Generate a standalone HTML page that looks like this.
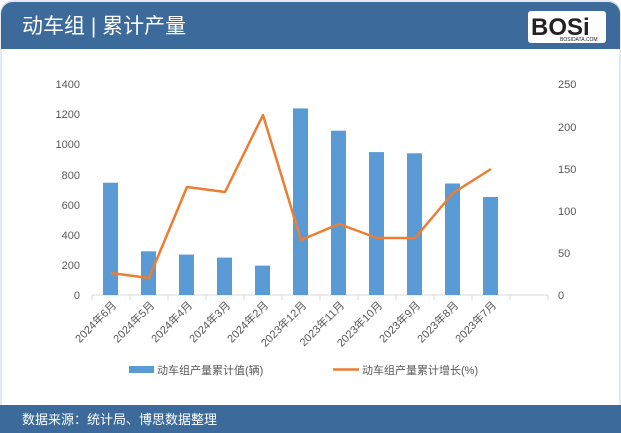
<!DOCTYPE html>
<html><head><meta charset="utf-8"><style>
body{margin:0;width:621px;height:433px;overflow:hidden;background:#fff;font-family:"Liberation Sans","Noto Sans CJK SC",sans-serif}
</style></head><body>
<svg width="621" height="433" xmlns="http://www.w3.org/2000/svg" style="position:absolute;left:0;top:0">
<rect x="1" y="1" width="619" height="431" rx="12" fill="#fff" stroke="#c9d6e6"/>
<path d="M13,2 H608 A12,12 0 0 1 620,14 V49 H1 V14 A12,12 0 0 1 13,2Z" fill="#3b6a9b"/>
<text x="22" y="33" fill="#fff" font-size="21" font-family="Liberation Sans,Noto Sans CJK SC,sans-serif">动车组 | 累计产量</text>
<rect x="528" y="11" width="78" height="32" rx="3" fill="#fff"/>
<text x="531" y="35" font-size="24" font-weight="bold" fill="#222" font-family="Liberation Sans,sans-serif">BOSi</text>
<text x="560" y="41" font-size="5" fill="#222">BOSIDATA.COM</text>
<rect x="0" y="405" width="621" height="28" fill="#3b6a9b"/>
<text x="22" y="424" fill="#fff" font-size="13" font-family="Liberation Sans,Noto Sans CJK SC,sans-serif">数据来源：统计局、博思数据整理</text>
<g font-size="11" fill="#595959" font-family="Liberation Sans,sans-serif">
<text x="80" y="299" text-anchor="end">0</text>
<text x="80" y="269" text-anchor="end">200</text>
<text x="80" y="239" text-anchor="end">400</text>
<text x="80" y="209" text-anchor="end">600</text>
<text x="80" y="179" text-anchor="end">800</text>
<text x="80" y="148" text-anchor="end">1000</text>
<text x="80" y="118" text-anchor="end">1200</text>
<text x="80" y="88" text-anchor="end">1400</text>
<text x="558" y="299">0</text>
<text x="558" y="257">50</text>
<text x="558" y="215">100</text>
<text x="558" y="173">150</text>
<text x="558" y="131">200</text>
<text x="558" y="88">250</text>
</g>
<line x1="92" y1="295" x2="548" y2="295" stroke="#d9d9d9"/>
<g stroke="#d9d9d9">
<line x1="92" y1="295" x2="92" y2="300"/><line x1="130" y1="295" x2="130" y2="300"/><line x1="168" y1="295" x2="168" y2="300"/><line x1="206" y1="295" x2="206" y2="300"/><line x1="244" y1="295" x2="244" y2="300"/><line x1="282" y1="295" x2="282" y2="300"/><line x1="320" y1="295" x2="320" y2="300"/><line x1="358" y1="295" x2="358" y2="300"/><line x1="396" y1="295" x2="396" y2="300"/><line x1="434" y1="295" x2="434" y2="300"/><line x1="472" y1="295" x2="472" y2="300"/><line x1="510" y1="295" x2="510" y2="300"/><line x1="548" y1="295" x2="548" y2="300"/>
</g>
<g fill="#5b9bd5">
<rect x="103" y="182.7" width="15" height="112.3"/>
<rect x="141" y="251.3" width="15" height="43.7"/>
<rect x="179" y="254.6" width="15" height="40.4"/>
<rect x="217" y="257.6" width="15" height="37.4"/>
<rect x="255" y="265.6" width="15" height="29.4"/>
<rect x="293" y="108.4" width="15" height="186.6"/>
<rect x="331" y="130.7" width="15" height="164.3"/>
<rect x="369" y="152.1" width="15" height="142.9"/>
<rect x="407" y="153.3" width="15" height="141.7"/>
<rect x="445" y="183.5" width="15" height="111.5"/>
<rect x="483" y="197" width="15" height="98"/>
</g>
<polyline fill="none" stroke="#ed7d31" stroke-width="2.5" stroke-linejoin="round" points="111,273 149,278 187,187 225,192 263,115 301,240 339,224 377,238 415,238 453,193 491,169"/>
<g font-size="11" fill="#595959" font-family="Liberation Sans,Noto Sans CJK SC,sans-serif">
<text transform="translate(117,306) rotate(-45)" text-anchor="end">2024年6月</text>
<text transform="translate(155,306) rotate(-45)" text-anchor="end">2024年5月</text>
<text transform="translate(193,306) rotate(-45)" text-anchor="end">2024年4月</text>
<text transform="translate(231,306) rotate(-45)" text-anchor="end">2024年3月</text>
<text transform="translate(269,306) rotate(-45)" text-anchor="end">2024年2月</text>
<text transform="translate(307,306) rotate(-45)" text-anchor="end">2023年12月</text>
<text transform="translate(345,306) rotate(-45)" text-anchor="end">2023年11月</text>
<text transform="translate(383,306) rotate(-45)" text-anchor="end">2023年10月</text>
<text transform="translate(421,306) rotate(-45)" text-anchor="end">2023年9月</text>
<text transform="translate(459,306) rotate(-45)" text-anchor="end">2023年8月</text>
<text transform="translate(497,306) rotate(-45)" text-anchor="end">2023年7月</text>
</g>
<rect x="129" y="366" width="25" height="7" fill="#5b9bd5"/>
<text x="157" y="374" font-size="11" fill="#595959" font-family="Liberation Sans,Noto Sans CJK SC,sans-serif">动车组产量累计值(辆)</text>
<line x1="333" y1="369.5" x2="359" y2="369.5" stroke="#ed7d31" stroke-width="2.5"/>
<text x="362" y="374" font-size="11" fill="#595959" font-family="Liberation Sans,Noto Sans CJK SC,sans-serif">动车组产量累计增长(%)</text>
</svg>
</body></html>
